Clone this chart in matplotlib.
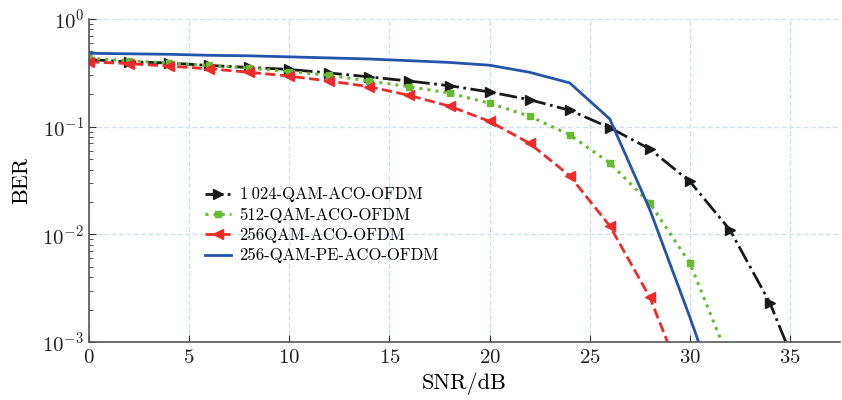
import matplotlib
matplotlib.use("Agg")
import matplotlib.pyplot as plt

plt.rcParams['font.family'] = ['cmr10', 'DejaVu Serif']
plt.rcParams['mathtext.fontset'] = 'cm'
plt.rcParams['axes.unicode_minus'] = False
plt.rcParams['axes.formatter.use_mathtext'] = True

snr = [0, 2, 4, 6, 8, 10, 12, 14, 16, 18, 20, 22, 24, 26, 28, 30, 32, 34, 36]
ber_1024 = [0.42, 0.40, 0.39, 0.37, 0.355, 0.34, 0.315, 0.29, 0.265, 0.24,
            0.21, 0.178, 0.142, 0.098, 0.062, 0.031, 0.011, 0.0023, 0.00028]

snr_512 = [0, 2, 4, 6, 8, 10, 12, 14, 16, 18, 20, 22, 24, 26, 28, 30, 32]
ber_512 = [0.43, 0.41, 0.39, 0.37, 0.35, 0.325, 0.30, 0.265, 0.235, 0.205,
           0.165, 0.125, 0.084, 0.046, 0.0195, 0.0054, 0.00065]

snr_256 = [0, 2, 4, 6, 8, 10, 12, 14, 16, 18, 20, 22, 24, 26, 28, 30]
ber_256 = [0.40, 0.385, 0.365, 0.345, 0.32, 0.295, 0.265, 0.235, 0.195, 0.155,
           0.112, 0.07, 0.035, 0.012, 0.0026, 0.0003]

snr_pe = [0, 2, 4, 6, 8, 10, 12, 14, 16, 18, 20, 22, 24, 26, 28, 30, 32]
ber_pe = [0.48, 0.475, 0.47, 0.46, 0.455, 0.445, 0.435, 0.425, 0.41, 0.395,
          0.372, 0.32, 0.255, 0.118, 0.017, 0.0017, 0.00015]

labels = ['1\u2009024-QAM-ACO-OFDM', '512-QAM-ACO-OFDM', '256QAM-ACO-OFDM', '256-QAM-PE-ACO-OFDM']

fig = plt.figure(figsize=(8.42, 4.0), dpi=100)
ax = fig.add_axes([0.1057, 0.145, 0.892, 0.8075])

ax.plot(snr, ber_1024, color='#1a1a1a', ls='-.', lw=2, marker='>', ms=7, label=labels[0])
ax.plot(snr_512, ber_512, color='#66bb33', ls=':', lw=2.2, marker='s', ms=5, label=labels[1])
ax.plot(snr_256, ber_256, color='#ee2a2a', ls='--', lw=2, marker='<', ms=7, label=labels[2])
ax.plot(snr_pe, ber_pe, color='#2255aa', ls='-', lw=2, label=labels[3])

ax.set_yscale('log')
ax.set_xlim(0, 37.5)
ax.set_ylim(1e-3, 1)
ax.set_xticks([0, 5, 10, 15, 20, 25, 30, 35])
ax.grid(True, which='major', color='#cfe2ee', ls='--', lw=1)
ax.tick_params(which='both', direction='in', labelsize=15, colors='#333333', labelcolor='#222222')
ax.tick_params(which='major', length=5)
ax.tick_params(which='minor', length=3)
ax.tick_params(axis='x', which='major', pad=5)
for s in ['top', 'right']:
    ax.spines[s].set_visible(False)
for s in ['left', 'bottom']:
    ax.spines[s].set_color('#555555')
    ax.spines[s].set_linewidth(1.2)

ax.set_xlabel('SNR/dB', fontsize=16, labelpad=4)
ax.set_ylabel('BER', fontsize=16, labelpad=8)
ax.legend(loc='upper left', bbox_to_anchor=(0.145, 0.5), frameon=False, fontsize=12,
          handlelength=1.6, handletextpad=0.5, labelspacing=0.3, borderaxespad=0)

fig.savefig('out.png', dpi=100)
